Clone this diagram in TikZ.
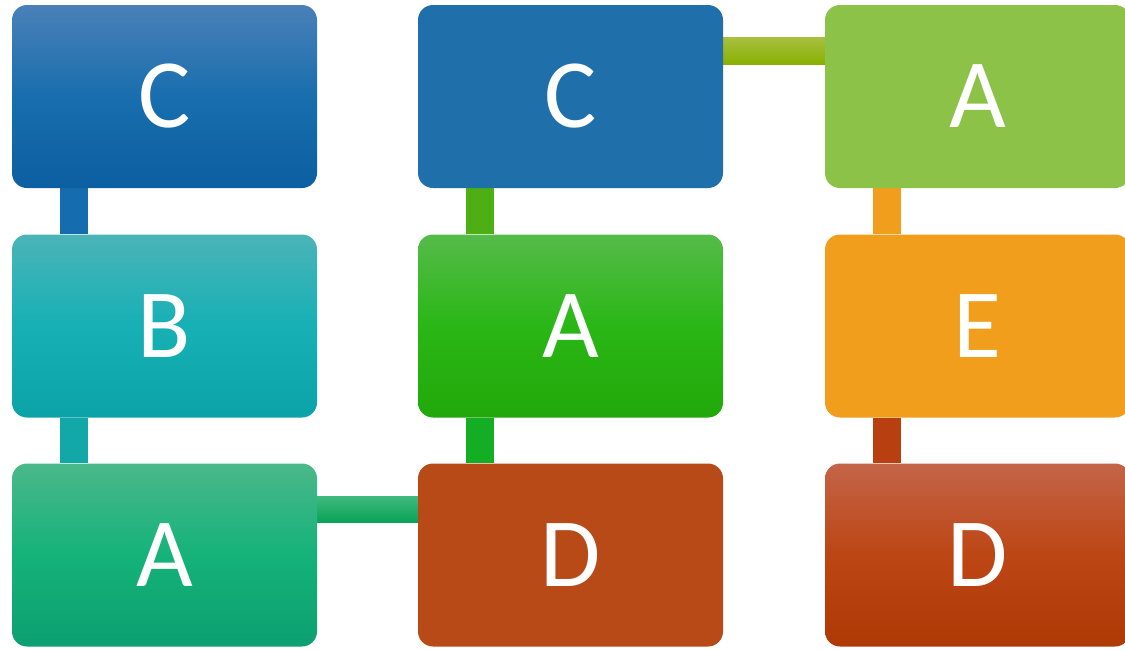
\documentclass[tikz,border=0pt]{standalone}
\usepackage{fontspec}
\setmainfont{Carlito}
\usetikzlibrary{backgrounds,calc}
\definecolor{cBlueA}{HTML}{1F70AA}
\definecolor{cGreenA}{HTML}{8CC248}
\definecolor{cOrange}{HTML}{F09E1C}
\definecolor{cRust}{HTML}{B84A18}
\tikzset{
  card/.style={rounded corners=15pt, minimum width=305pt, minimum height=183pt,
    inner sep=0pt, text=white, font=\fontsize{98}{98}\selectfont},
  link/.style={line width=28pt, line cap=butt},
}
\begin{document}
\begin{tikzpicture}[x=1pt,y=-1pt]
\useasboundingbox (0,0) rectangle (1125,649);
% left column
\node[card, top color={rgb,255:red,74;green,128;blue,184}, bottom color={rgb,255:red,12;green,95;blue,160}, middle color={rgb,255:red,24;green,110;blue,174}] (l1) at (164.5,96.5) {C};
\node[card, top color={rgb,255:red,75;green,180;blue,184}, bottom color={rgb,255:red,11;green,163;blue,168}, middle color={rgb,255:red,22;green,176;blue,181}] (l2) at (164.5,326) {B};
\node[card, top color={rgb,255:red,74;green,184;blue,138}, bottom color={rgb,255:red,12;green,160;blue,112}, middle color={rgb,255:red,21;green,178;blue,122}] (l3) at (164.5,555) {A};
% middle column
\node[card, fill=cBlueA] (m1) at (570.5,96.5) {C};
\node[card, top color={rgb,255:red,85;green,187;blue,74}, bottom color={rgb,255:red,34;green,168;blue,10}, middle color={rgb,255:red,42;green,183;blue,22}] (m2) at (570.5,326) {A};
\node[card, fill=cRust] (m3) at (570.5,555) {D};
% right column
\node[card, fill=cGreenA] (r1) at (977.5,96.5) {A};
\node[card, fill=cOrange] (r2) at (977.5,326) {E};
\node[card, top color={rgb,255:red,196;green,100;blue,72}, bottom color={rgb,255:red,176;green,58;blue,6}, middle color={rgb,255:red,188;green,70;blue,20}] (r3) at (977.5,555) {D};
% connectors behind the cards
\begin{scope}[on background layer]
  \draw[link, color={rgb,255:red,21;green,108;blue,174}] ([xshift=-90.5pt]l1.south) -- ([xshift=-90.5pt]l2.north);
  \draw[link, color={rgb,255:red,18;green,168;blue,168}] ([xshift=-90.5pt]l2.south) -- ([xshift=-90.5pt]l3.north);
  \draw[link, color={rgb,255:red,78;green,175;blue,20}] ([xshift=-90.5pt]m1.south) -- ([xshift=-90.5pt]m2.north);
  \draw[link, color={rgb,255:red,20;green,174;blue,36}] ([xshift=-90.5pt]m2.south) -- ([xshift=-90.5pt]m3.north);
  \draw[link, color=cOrange] ([xshift=-90.5pt]r1.south) -- ([xshift=-90.5pt]r2.north);
  \draw[link, color={rgb,255:red,184;green,64;blue,16}] ([xshift=-90.5pt]r2.south) -- ([xshift=-90.5pt]r3.north);
  \shade[top color={rgb,255:red,168;green,192;blue,64}, bottom color={rgb,255:red,136;green,176;blue,0}]
    ([xshift=-2pt,yshift=59.5pt]m1.east) rectangle ([xshift=2pt,yshift=32.5pt]r1.west);
  \shade[top color={rgb,255:red,64;green,186;blue,128}, bottom color={rgb,255:red,10;green,162;blue,88}]
    ([xshift=-2pt,yshift=59pt]l3.east) rectangle ([xshift=2pt,yshift=33pt]m3.west);
\end{scope}
\end{tikzpicture}
\end{document}
